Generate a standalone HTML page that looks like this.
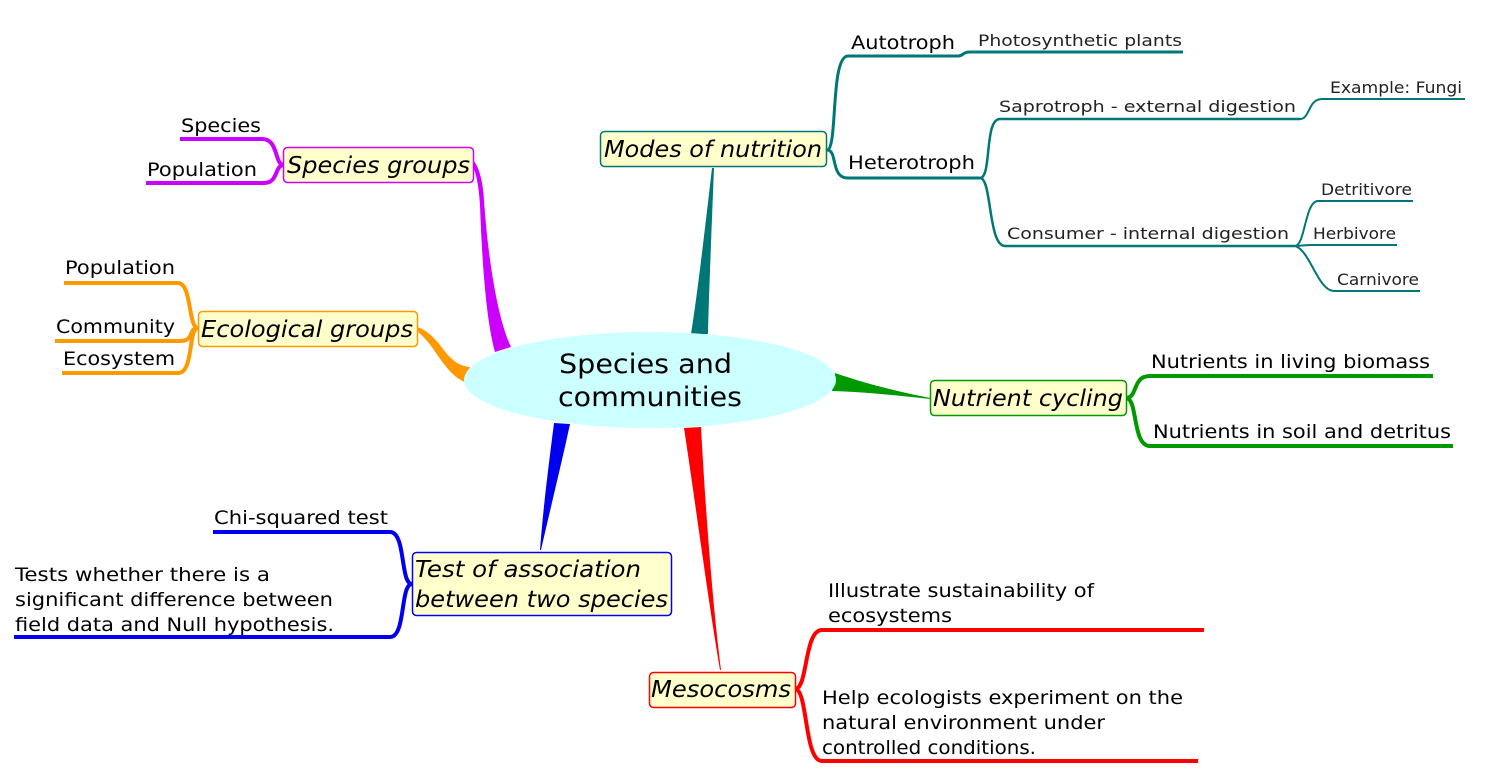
<!DOCTYPE html>
<html><head><meta charset="utf-8"><style>
html,body{margin:0;padding:0;background:#fff;}
svg{display:block;font-family:"DejaVu Sans","Liberation Sans",sans-serif;}
.b{font-style:italic;font-size:23px;fill:#000;}
.t{font-size:19px;fill:#000;}
.s{font-size:16px;fill:#222;}
</style></head><body>
<svg width="1485" height="781" viewBox="0 0 1485 781" xmlns="http://www.w3.org/2000/svg">
<path d="M712,168 L714,168 C712,220 709,290 708,334 L691,334 C698,290 706,220 712,168Z" fill="#007777"/>
<path d="M473,160 Q482,170 484,200 C488,260 498,320 511,347 L495,352 C486,320 482,260 480,205 Q478,175 472,165Z" fill="#cc00ff"/>
<path d="M417,327 Q428,330 440,345 C452,362 460,366 470,367 L465,382 C455,378 448,370 438,356 Q428,340 417,331Z" fill="#ff9900"/>
<path d="M835,373 C870,385 900,392 930,398 L930,399 C900,396 868,392 832,391Z" fill="#009900"/>
<path d="M540,550 L541,550 C550,510 560,470 570,424 L554,423 C548,470 543,510 540,550Z" fill="#0000ee"/>
<path d="M720,670 L721,670 C712,600 705,500 701,427 L684,428 C695,500 708,600 720,670Z" fill="#ff0000"/>
<ellipse cx="650" cy="380" rx="186" ry="48" fill="#ccffff"/>
<text x="559" y="373" font-size="27" textLength="173" lengthAdjust="spacingAndGlyphs">Species and</text>
<text x="558" y="406" font-size="27" textLength="184" lengthAdjust="spacingAndGlyphs">communities</text>

<g fill="none" stroke="#007777">
<path d="M827,150 C838,150 830,56 848,56 L958,56 C964,56 962,52 970,52 L1183,52" stroke-width="3"/>
<path d="M827,150 C838,150 830,178 848,178 L980,178" stroke-width="3"/>
<path d="M980,178 C992,178 984,119 1000,119 L1300,119" stroke-width="2.5"/>
<path d="M980,178 C992,178 988,246 1005,246 L1295,246" stroke-width="2.5"/>
<path d="M1300,119 C1310,119 1308,99 1322,99 L1465,99" stroke-width="2"/>
<path d="M1295,246 C1305,246 1305,201 1318,201 L1413,201" stroke-width="2"/>
<path d="M1295,246 L1310,245 L1397,245" stroke-width="2"/>
<path d="M1295,246 C1310,250 1318,291 1334,291 L1420,291" stroke-width="2"/>
</g>
<rect x="600.5" y="131.5" width="226" height="35" rx="4" fill="#ffffcc" stroke="#007777" stroke-width="1.5"/>
<g lengthAdjust="spacingAndGlyphs">
<text class="b" x="604" y="157" textLength="218" lengthAdjust="spacingAndGlyphs">Modes of nutrition</text>
<text class="t" x="851" y="49" textLength="104" lengthAdjust="spacingAndGlyphs">Autotroph</text>
<text class="s" x="978" y="46" textLength="204" lengthAdjust="spacingAndGlyphs">Photosynthetic plants</text>
<text class="t" x="848" y="169" textLength="127" lengthAdjust="spacingAndGlyphs">Heterotroph</text>
<text class="s" x="999" y="112" textLength="297" lengthAdjust="spacingAndGlyphs">Saprotroph - external digestion</text>
<text class="s" x="1007" y="239" textLength="282" lengthAdjust="spacingAndGlyphs">Consumer - internal digestion</text>
<text class="s" x="1330" y="93" font-size="15" textLength="132" lengthAdjust="spacingAndGlyphs">Example: Fungi</text>
<text class="s" x="1321" y="195" font-size="15" textLength="91" lengthAdjust="spacingAndGlyphs">Detritivore</text>
<text class="s" x="1313" y="239" font-size="15" textLength="83" lengthAdjust="spacingAndGlyphs">Herbivore</text>
<text class="s" x="1337" y="285" font-size="15" textLength="82" lengthAdjust="spacingAndGlyphs">Carnivore</text>
</g>

<g fill="none" stroke="#cc00ff" stroke-width="4">
<path d="M284,165 C274,165 279,139 262,139 L180,139"/>
<path d="M284,165 C274,165 279,183 264,183 L146,183"/>
</g>
<rect x="283.5" y="147.5" width="190" height="35" rx="4" fill="#ffffcc" stroke="#cc00ff" stroke-width="1.5"/>
<text class="b" x="287" y="173" textLength="183" lengthAdjust="spacingAndGlyphs">Species groups</text>
<text class="t" x="181" y="132" textLength="80" lengthAdjust="spacingAndGlyphs">Species</text>
<text class="t" x="147" y="176" textLength="110" lengthAdjust="spacingAndGlyphs">Population</text>

<g fill="none" stroke="#ff9900" stroke-width="4">
<path d="M198,328 C188,328 192,283 178,283 L64,283"/>
<path d="M198,328 C188,328 195,341 180,341 L55,341"/>
<path d="M198,328 C188,328 194,373 178,373 L62,373"/>
</g>
<rect x="198.5" y="311.5" width="219" height="35" rx="4" fill="#ffffcc" stroke="#ff9900" stroke-width="1.5"/>
<text class="b" x="201" y="337" textLength="212" lengthAdjust="spacingAndGlyphs">Ecological groups</text>
<text class="t" x="65" y="274" textLength="110" lengthAdjust="spacingAndGlyphs">Population</text>
<text class="t" x="56" y="333" textLength="119" lengthAdjust="spacingAndGlyphs">Community</text>
<text class="t" x="63" y="365" textLength="112" lengthAdjust="spacingAndGlyphs">Ecosystem</text>

<g fill="none" stroke="#009900" stroke-width="4">
<path d="M1126,398 C1138,398 1132,376 1150,376 L1433,376"/>
<path d="M1126,398 C1138,398 1132,446 1150,446 L1453,446"/>
</g>
<rect x="930.5" y="380.5" width="196" height="35" rx="4" fill="#ffffcc" stroke="#009900" stroke-width="1.5"/>
<text class="b" x="933" y="406" textLength="190" lengthAdjust="spacingAndGlyphs">Nutrient cycling</text>
<text class="t" x="1151" y="368" textLength="279" lengthAdjust="spacingAndGlyphs">Nutrients in living biomass</text>
<text class="t" x="1153" y="438" textLength="298" lengthAdjust="spacingAndGlyphs">Nutrients in soil and detritus</text>

<g fill="none" stroke="#0000ee" stroke-width="4">
<path d="M412,584 C400,584 406,532 390,532 L213,532"/>
<path d="M412,584 C400,584 406,637 390,637 L14,637"/>
</g>
<rect x="412.5" y="552.5" width="259" height="63" rx="4" fill="#ffffcc" stroke="#0000ee" stroke-width="1.5"/>
<text class="b" x="415" y="577" textLength="226" lengthAdjust="spacingAndGlyphs">Test of association</text>
<text class="b" x="415" y="607" textLength="253" lengthAdjust="spacingAndGlyphs">between two species</text>
<text class="t" x="214" y="524" textLength="174" lengthAdjust="spacingAndGlyphs">Chi-squared test</text>
<text class="t" x="15" y="581" textLength="255" lengthAdjust="spacingAndGlyphs">Tests whether there is a</text>
<text class="t" x="15" y="606" textLength="318" lengthAdjust="spacingAndGlyphs">significant difference between</text>
<text class="t" x="15" y="631" textLength="319" lengthAdjust="spacingAndGlyphs">field data and Null hypothesis.</text>

<g fill="none" stroke="#ff0000" stroke-width="4">
<path d="M795,689 C808,689 804,630 822,630 L1204,630"/>
<path d="M795,689 C808,689 804,761 822,761 L1198,761"/>
</g>
<rect x="649.5" y="672.5" width="146" height="35" rx="4" fill="#ffffcc" stroke="#ff0000" stroke-width="1.5"/>
<text class="b" x="651" y="697" textLength="140" lengthAdjust="spacingAndGlyphs">Mesocosms</text>
<text class="t" x="828" y="597" textLength="266" lengthAdjust="spacingAndGlyphs">Illustrate sustainability of</text>
<text class="t" x="828" y="622" textLength="124" lengthAdjust="spacingAndGlyphs">ecosystems</text>
<text class="t" x="822" y="704" textLength="361" lengthAdjust="spacingAndGlyphs">Help ecologists experiment on the</text>
<text class="t" x="822" y="729" textLength="283" lengthAdjust="spacingAndGlyphs">natural environment under</text>
<text class="t" x="822" y="754" textLength="214" lengthAdjust="spacingAndGlyphs">controlled conditions.</text>
</svg>
</body></html>
